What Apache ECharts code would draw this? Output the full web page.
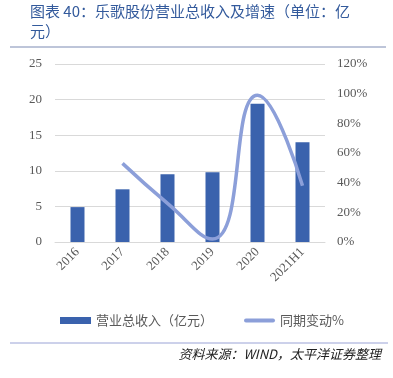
<!DOCTYPE html>
<html>
<head>
<meta charset="utf-8">
<script src="https://cdn.jsdelivr.net/npm/echarts@6/dist/echarts.min.js"></script>
<style>
html,body{margin:0;padding:0;background:#fff;}
#main{width:393px;height:378px;}
</style>
</head>
<body>
<div id="main"></div>
<script>
var years = ['2016', '2017', '2018', '2019', '2020', '2021H1'];
var revenue = [4.9, 7.4, 9.5, 9.8, 19.4, 14.0];
var growth = [null, 53, 26, 2, 99, 38];
var leftTicks = [0, 5, 10, 15, 20, 25];

var myChart = echarts.init(document.getElementById('main'));
var serif = '"Liberation Serif", "Times New Roman", serif';
var cjk = '"Noto Sans CJK SC", sans-serif';

var option = {
    backgroundColor: '#fff',
    animation: false,
    graphic: [
        {
            type: 'text', x: 30, y: 4,
            style: { text: '图表 40：乐歌股份营业总收入及增速（单位：亿', fill: '#335a9c', fontSize: 15, fontFamily: cjk }
        },
        {
            type: 'text', x: 30, y: 24,
            style: { text: '元）', fill: '#335a9c', fontSize: 15, fontFamily: cjk }
        },
        {
            type: 'line', shape: { x1: 10, y1: 47, x2: 386, y2: 47 },
            style: { stroke: '#7d8bb3', lineWidth: 1 }
        },
        {
            type: 'line', shape: { x1: 10, y1: 343, x2: 388, y2: 343 },
            style: { stroke: '#9aa3d6', lineWidth: 1 }
        },
        {
            type: 'text', right: 12, top: 348,
            style: { text: '资料来源：WIND，太平洋证券整理', fill: '#222', fontSize: 13, fontStyle: 'italic', fontFamily: cjk }
        }
    ],
    legend: {
        left: 55, top: 309,
        itemWidth: 31, itemHeight: 7, itemGap: 31,
        textStyle: { color: '#595959', fontSize: 13, fontFamily: cjk },
        data: [
            { name: '营业总收入（亿元）', icon: 'rect' },
            { name: '同期变动%', icon: 'path://M2,0 L30,0 A2,2 0 0 1 30,4 L2,4 A2,2 0 0 1 2,0 Z' }
        ]
    },
    grid: { left: 55, right: 68, top: 64, bottom: 136 },
    xAxis: {
        type: 'category',
        data: years,
        axisLine: { lineStyle: { color: '#d9d9d9' } },
        axisTick: { show: false },
        axisLabel: { rotate: 45, color: '#595959', fontSize: 13, fontFamily: serif, margin: 8 }
    },
    yAxis: [
        {
            type: 'value', min: 0, max: 25, interval: 5,
            axisLine: { show: false }, axisTick: { show: false },
            splitLine: { lineStyle: { color: '#d9d9d9' } },
            axisLabel: { color: '#595959', fontSize: 13, fontFamily: serif, margin: 13 }
        },
        {
            type: 'value', min: 0, max: 120, interval: 20,
            axisLine: { show: false }, axisTick: { show: false },
            splitLine: { show: false },
            axisLabel: { color: '#595959', fontSize: 13, fontFamily: serif, margin: 12, formatter: '{value}%' }
        }
    ],
    series: [
        {
            name: '营业总收入（亿元）',
            type: 'bar',
            data: revenue,
            barWidth: 14,
            itemStyle: { color: '#3a62ad' }
        },
        {
            name: '同期变动%',
            type: 'line',
            yAxisIndex: 1,
            data: growth,
            smooth: 0.5,
            symbol: 'none',
            lineStyle: { color: '#8c9fd9', width: 3.5 },
            itemStyle: { color: '#8c9fd9' }
        }
    ]
};
myChart.setOption(option);
</script>
</body>
</html>
